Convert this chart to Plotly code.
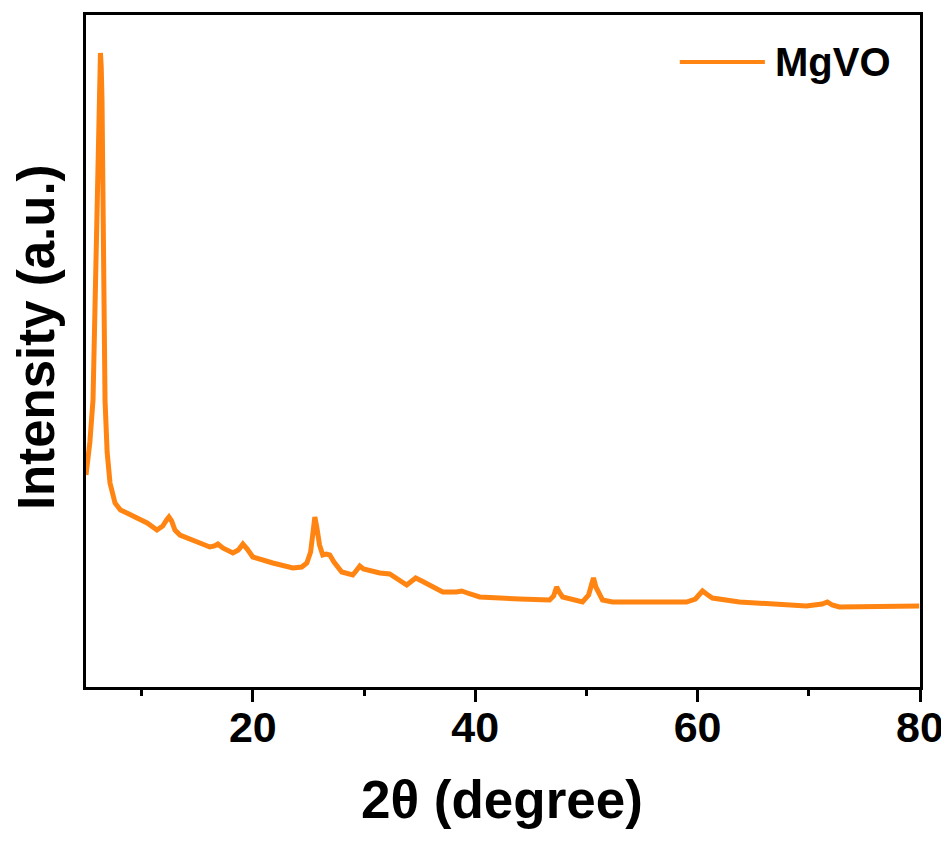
import plotly.graph_objects as go

# XRD pattern of MgVO
two_theta = [
    5.00, 5.35, 5.63, 5.85, 5.99, 6.10, 6.17, 6.24, 6.30, 6.37, 6.44, 6.53,
    6.62, 6.71, 6.90, 7.16, 7.61, 8.10, 8.68, 9.58, 10.50, 11.38, 11.90, 12.25,
    12.46, 12.70, 13.00, 13.45, 14.79, 16.14, 16.55, 16.86, 17.30, 18.21,
    18.70, 19.11, 19.50, 20.00, 21.80, 23.60, 24.40, 24.86, 25.20, 25.45,
    25.58, 25.75, 26.00, 26.29, 26.60, 26.92, 27.30, 28.00, 28.99, 29.35,
    29.62, 29.95, 31.42, 32.31, 33.10, 33.84, 34.30, 34.65, 35.20, 37.08,
    38.30, 38.78, 39.30, 40.40, 43.99, 46.69, 47.05, 47.32, 47.55, 47.86,
    49.65, 50.20, 50.50, 50.64, 50.85, 51.45, 52.35, 59.00, 59.80, 60.20,
    60.44, 60.80, 61.33, 63.76, 69.78, 71.20, 71.67, 72.10, 72.74, 79.93,
]
intensity = [
    212, 245, 287, 400, 487, 550, 587, 620, 634, 620, 587, 487,
    380, 287, 235, 204, 184, 177, 174, 169, 164, 157, 161, 167,
    170, 166, 157, 152, 146, 140, 141, 143, 139, 134,
    137, 143, 138, 130, 124, 119, 120, 124, 135, 158,
    170, 160, 142, 132, 133, 132, 125, 115, 112, 117,
    121, 118, 114, 113, 107, 102, 106, 109, 106, 95,
    95, 96, 94, 90, 88, 87, 91, 100, 95, 90,
    85, 92, 104, 109, 100, 87, 85, 85, 88, 93,
    96, 93, 89, 85, 81, 83, 85, 82, 80, 81,
]
series_name = "MgVO"
x_ticks = [20, 40, 60, 80]

ORANGE = "#FF8412"
FONT = "Arial, Liberation Sans, sans-serif"

fig = go.Figure()
fig.add_trace(
    go.Scatter(
        x=two_theta,
        y=intensity,
        mode="lines",
        name=series_name,
        line=dict(color=ORANGE, width=5),
        showlegend=False,
    )
)

# legend drawn by hand so the sample line can be long, like the original
fig.add_shape(
    type="line",
    xref="paper",
    yref="paper",
    x0=0.712,
    x1=0.814,
    y0=0.93,
    y1=0.93,
    line=dict(color=ORANGE, width=4),
)
fig.add_annotation(
    text=series_name,
    xref="paper",
    yref="paper",
    x=0.824,
    y=0.93,
    xanchor="left",
    yanchor="middle",
    showarrow=False,
    font=dict(family=FONT, size=40, color="black", weight="bold"),
)

# axis titles as annotations so they sit where the original has them
fig.add_annotation(
    text="2θ (degree)",
    xref="paper",
    yref="paper",
    x=0.499,
    y=-0.167,
    xanchor="center",
    yanchor="middle",
    showarrow=False,
    font=dict(family=FONT, size=53, color="black", weight="bold"),
)
fig.add_annotation(
    text="Intensity (a.u.)",
    xref="paper",
    yref="paper",
    x=-0.0585,
    y=0.521,
    xanchor="center",
    yanchor="middle",
    textangle=-90,
    showarrow=False,
    font=dict(family=FONT, size=51, color="black", weight="bold"),
)

# the page body adds 8px of margin, so the figure is a bit smaller than the window
fig.update_layout(
    width=941,
    height=836,
    margin=dict(l=78, r=29, t=7, b=157),
    paper_bgcolor="white",
    plot_bgcolor="white",
    font=dict(family=FONT, color="black"),
)
fig.update_xaxes(
    range=[5, 80],
    tickvals=x_ticks,
    ticks="outside",
    ticklen=12,
    tickwidth=3,
    tickcolor="black",
    minor=dict(dtick=10, tick0=0, ticks="outside", ticklen=6, tickwidth=3, tickcolor="black"),
    tickfont=dict(family=FONT, size=43, weight="bold"),
    ticklabelstandoff=-12,
    showline=True,
    linewidth=3,
    linecolor="black",
    mirror=True,
    showgrid=False,
    zeroline=False,
    automargin=False,
)
fig.update_yaxes(
    range=[0, 672],
    showticklabels=False,
    ticks="",
    showline=True,
    linewidth=3,
    linecolor="black",
    mirror=True,
    showgrid=False,
    zeroline=False,
    automargin=False,
)

fig.write_html("out.html")
